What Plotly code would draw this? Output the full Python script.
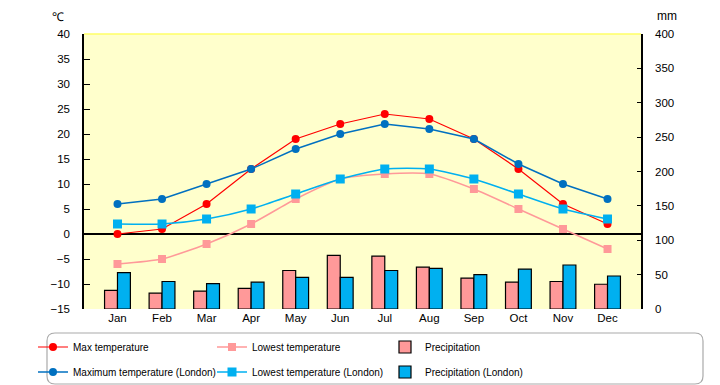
import plotly.graph_objects as go

months = ["Jan", "Feb", "Mar", "Apr", "May", "Jun", "Jul", "Aug", "Sep", "Oct", "Nov", "Dec"]
max_temp = [0, 1, 6, 13, 19, 22, 24, 23, 19, 13, 6, 2]
low_temp = [-6, -5, -2, 2, 7, 11, 12, 12, 9, 5, 1, -3]
precip = [27, 23, 26, 30, 56, 78, 77, 61, 45, 39, 40, 36]
max_temp_london = [6, 7, 10, 13, 17, 20, 22, 21, 19, 14, 10, 7]
low_temp_london = [2, 2, 3, 5, 8, 11, 13, 13, 11, 8, 5, 3]
precip_london = [53, 40, 37, 39, 46, 46, 56, 59, 50, 58, 64, 48]

FONT = "Liberation Sans, Arial, sans-serif"

fig = go.Figure()
fig.add_trace(go.Bar(x=months, y=precip, name="Precipitation", yaxis="y2",
                     marker=dict(color="#FF9999", line=dict(color="black", width=1.2)),
                     legend="legend3"))
fig.add_trace(go.Bar(x=months, y=precip_london, name="Precipitation (London)", yaxis="y2",
                     marker=dict(color="#00B0F0", line=dict(color="black", width=1.2)),
                     legend="legend6"))
fig.add_trace(go.Scatter(x=months, y=max_temp, name="Max temperature", mode="lines+markers",
                         line=dict(color="#FF0000", width=1.2),
                         marker=dict(symbol="circle", size=8, color="#FF0000"),
                         legend="legend"))
fig.add_trace(go.Scatter(x=months, y=low_temp, name="Lowest temperature", mode="lines+markers",
                         line=dict(color="#FF9999", width=1.5, shape="spline", smoothing=0.6),
                         marker=dict(symbol="square", size=8, color="#FF9999"),
                         legend="legend2"))
fig.add_trace(go.Scatter(x=months, y=max_temp_london, name="Maximum temperature (London)", mode="lines+markers",
                         line=dict(color="#0070C0", width=1.5),
                         marker=dict(symbol="circle", size=8, color="#0070C0"),
                         legend="legend4"))
fig.add_trace(go.Scatter(x=months, y=low_temp_london, name="Lowest temperature (London)", mode="lines+markers",
                         line=dict(color="#00B0F0", width=1.5, shape="spline", smoothing=0.6),
                         marker=dict(symbol="square", size=9, color="#00B0F0"),
                         legend="legend5"))

leg_common = dict(orientation="v", xref="container", yref="container", xanchor="left", yanchor="middle",
                  bgcolor="rgba(0,0,0,0)", font=dict(family=FONT, size=10, color="black"))
col_x = [33, 212, 385]
row_y = [347, 372]
legends = {}
names = ["legend", "legend2", "legend3", "legend4", "legend5", "legend6"]
for i, nm in enumerate(names):
    legends[nm] = dict(x=col_x[i % 3] / 720, y=1 - row_y[i // 3] / 385, **leg_common)

# rounded legend frame (paper coords: x 0->84px, 1->641px; y 0->309px, 1->34px)
px = lambda v: (v - 84) / 557
py = lambda v: (309 - v) / 275
x0, x1, y0, y1 = px(47), px(703), py(384), py(333)
rx, ry = 8 / 557, 8 / 275
path = (f"M {x0+rx},{y1} L {x1-rx},{y1} Q {x1},{y1} {x1},{y1-ry} L {x1},{y0+ry} Q {x1},{y0} {x1-rx},{y0} "
        f"L {x0+rx},{y0} Q {x0},{y0} {x0},{y0+ry} L {x0},{y1-ry} Q {x0},{y1} {x0+rx},{y1} Z")

fig.update_layout(
    template="none",
    width=720, height=385,
    showlegend=True,
    margin=dict(l=84, r=79, t=34, b=76, autoexpand=False),
    paper_bgcolor="white", plot_bgcolor="#FFFFCC",
    font=dict(family=FONT, size=11.5, color="black"),
    barmode="group", bargap=0.42, bargroupgap=0,
    xaxis=dict(showgrid=False, showline=False, ticks="", automargin=False),
    yaxis=dict(range=[-15, 40], dtick=5, showgrid=False, showline=True, linecolor="black", linewidth=1.5,
               ticks="inside", ticklen=6, tickcolor="black", zeroline=True, zerolinecolor="black",
               zerolinewidth=1.5, ticklabelstandoff=10, automargin=False),
    yaxis2=dict(range=[0, 400], dtick=50, overlaying="y", side="right", showgrid=False, showline=True,
                linecolor="black", linewidth=1.5, ticks="inside", ticklen=4, tickcolor="black",
                zeroline=False, ticklabelstandoff=10, automargin=False),
    shapes=[
        dict(type="line", xref="paper", yref="paper", x0=0, x1=1, y0=1, y1=1,
             line=dict(color="#FFFF66", width=1.5)),
        dict(type="path", xref="paper", yref="paper", path=path,
             line=dict(color="#AAAAAA", width=1.2), fillcolor="rgba(0,0,0,0)"),
    ],
    annotations=[
        dict(text="℃", xref="paper", yref="paper", x=px(58), y=py(17), xanchor="center", yanchor="middle",
             showarrow=False, font=dict(size=12)),
        dict(text="mm", xref="paper", yref="paper", x=px(667), y=py(16), xanchor="center", yanchor="middle",
             showarrow=False, font=dict(size=12)),
    ],
    **legends,
)

fig.write_html("out.html", config={"displayModeBar": False},
               post_script="document.body.style.margin='0px';")
